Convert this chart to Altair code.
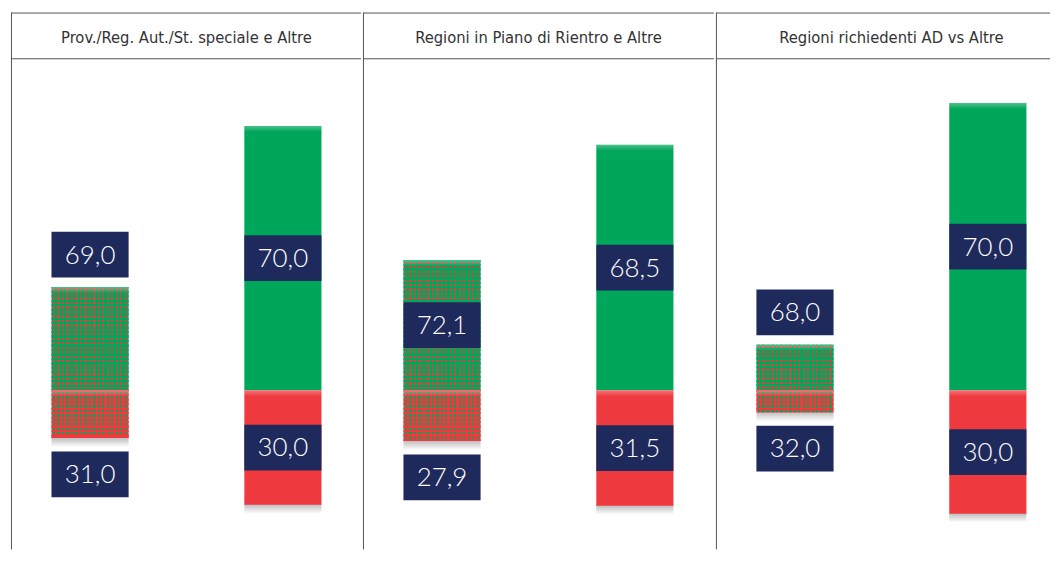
import altair as alt
import pandas as pd

# ---------------- data ----------------
panels = [
    "Prov./Reg. Aut./St. speciale e Altre",
    "Regioni in Piano di Rientro e Altre",
    "Regioni richiedenti AD vs Altre",
]
bars = ["small", "tall"]
segs = ["green", "red"]
# segment sizes (relative units, as drawn)
green_small = [104, 131, 46]
red_small = [48, 51, 22]
green_tall = [266, 247, 289]
red_tall = [115, 116, 124]
# percentage labels
lab_green_small = ["69,0", "72,1", "68,0"]
lab_red_small = ["31,0", "27,9", "32,0"]
lab_green_tall = ["70,0", "68,5", "70,0"]
lab_red_tall = ["30,0", "31,5", "30,0"]

rows = []
for i in range(3):
    rows.append(dict(pi=i, bar="small", seg="green", value=green_small[i], lab=lab_green_small[i]))
    rows.append(dict(pi=i, bar="small", seg="red", value=red_small[i], lab=lab_red_small[i]))
    rows.append(dict(pi=i, bar="tall", seg="green", value=green_tall[i], lab=lab_green_tall[i]))
    rows.append(dict(pi=i, bar="tall", seg="red", value=red_tall[i], lab=lab_red_tall[i]))
df = pd.DataFrame(rows)

# ---------------- styles ----------------
GREEN = "#00a65a"
RED = "#ee3a3e"
NAVY = "#1f2a5c"
LINE = "#555555"
H = 540
WIDTHS = [352, 353, 336]
TRANSP = "rgba(0,0,0,0)"
PITCH = 4.5
DOT = 2.3
BARW = 77.6

xscale = alt.Scale(domain=bars, range=[0, 353], paddingInner=0.6, paddingOuter=0.21)
yscale = alt.Scale(domain=[380 - H, 380], nice=False, zero=False)


def grad(stops, vertical):
    s = [alt.GradientStop(offset=round(o, 5), color=c) for o, c in stops]
    if vertical:
        return alt.LinearGradient(gradient="linear", x1=0, y1=0, x2=0, y2=1, stops=s)
    return alt.LinearGradient(gradient="linear", x1=0, y1=0, x2=1, y2=0, stops=s)


def col_stripes(color, length=BARW):
    st = [(0, TRANSP)]
    p = 1.5
    while p + DOT <= length:
        a, b = p / length, (p + DOT) / length
        st += [(a, TRANSP), (a, color), (b, color), (b, TRANSP)]
        p += PITCH
    st.append((1, TRANSP))
    return grad(st, False)


def row_cover(color, length):
    st = [(0, color)]
    p = 1.5
    while p + DOT <= length:
        a, b = p / length, (p + DOT) / length
        st += [(a, color), (a, TRANSP), (b, TRANSP), (b, color)]
        p += PITCH
    st.append((1, color))
    return grad(st, True)


shadow = grad([(0, "rgba(0,0,0,0.28)"), (1, "rgba(0,0,0,0)")], True)
shine = grad([(0, "rgba(255,255,255,0.3)"), (1, "rgba(255,255,255,0)")], True)

X = alt.X("bar:N", scale=xscale, axis=None)


def panel(i):
    base = (
        alt.Chart(df)
        .transform_filter(alt.datum.pi == i)
        .transform_calculate(signed="datum.seg == 'green' ? datum.value : -datum.value")
    )
    Ys = alt.Y("signed:Q", scale=yscale, axis=None)

    sh = (
        base.transform_filter(alt.datum.seg == "red")
        .transform_calculate(s1="-datum.value + 1", s2="-datum.value - 9")
        .mark_bar(fill=shadow)
        .encode(x=X, y=alt.Y("s1:Q", scale=yscale, axis=None), y2="s2:Q")
    )
    solid = base.mark_bar().encode(
        x=X, y=Ys,
        color=alt.Color("seg:N", scale=alt.Scale(domain=segs, range=[GREEN, RED]), legend=None),
    )
    dots_g = base.transform_filter((alt.datum.bar == "small") & (alt.datum.seg == "green")) \
        .mark_bar(fill=col_stripes(RED)).encode(x=X, y=Ys)
    dots_r = base.transform_filter((alt.datum.bar == "small") & (alt.datum.seg == "red")) \
        .mark_bar(fill=col_stripes(GREEN)).encode(x=X, y=Ys)
    cover_g = base.transform_filter((alt.datum.bar == "small") & (alt.datum.seg == "green")) \
        .mark_bar(fill=row_cover(GREEN, green_small[i])).encode(x=X, y=Ys)
    cover_r = base.transform_filter((alt.datum.bar == "small") & (alt.datum.seg == "red")) \
        .mark_bar(fill=row_cover(RED, red_small[i])).encode(x=X, y=Ys)
    top_shine = (
        base.transform_calculate(
            t1="datum.seg == 'green' ? datum.value : 0",
            t2="datum.seg == 'green' ? datum.value - 6 : -6",
        )
        .mark_bar(fill=shine)
        .encode(x=X, y=alt.Y("t1:Q", scale=yscale, axis=None), y2="t2:Q")
    )

    lbl = base.transform_calculate(
        center="datum.value >= 110 ? datum.signed / 2 : (datum.seg == 'green' ? datum.value + 32.5 : -datum.value - 36.5)"
    ).transform_calculate(b1="datum.center - 23", b2="datum.center + 23")
    boxes = lbl.mark_bar(color=NAVY).encode(
        x=X, y=alt.Y("b1:Q", scale=yscale, axis=None), y2="b2:Q"
    )
    texts = lbl.mark_text(
        font="Lato", fontSize=26, fontWeight=300, color="white", baseline="middle", dy=1
    ).encode(x=X, y=alt.Y("center:Q", scale=yscale, axis=None), text="lab:N")

    one = alt.Chart(pd.DataFrame({"title": [panels[i]]}))
    w = WIDTHS[i]
    top_rule = one.mark_rule(color=LINE, strokeWidth=1).encode(
        x=alt.value(0), x2=alt.value(w), y=alt.value(0.5))
    head_rule = one.mark_rule(color=LINE, strokeWidth=1).encode(
        x=alt.value(0), x2=alt.value(w), y=alt.value(46.5))
    left_rule = one.mark_rule(color=LINE, strokeWidth=1).encode(
        x=alt.value(0.5), y=alt.value(0), y2=alt.value(H))
    head = one.mark_text(
        font="Liberation Sans Narrow, Arial Narrow, DejaVu Sans Condensed, Roboto, sans-serif",
        fontSize=16.5, color="#333333", baseline="middle"
    ).encode(x=alt.value(176.5), y=alt.value(26), text="title:N")

    return alt.layer(
        sh, solid, dots_g, dots_r, cover_g, cover_r, top_shine, boxes, texts,
        top_rule, head_rule, left_rule, head,
    ).properties(width=w, height=H)


chart = (
    alt.hconcat(*[panel(i) for i in range(3)], spacing=0)
    .properties(padding={"left": 2, "top": 2, "right": 0, "bottom": 0})
    .configure_view(stroke=None)
    .configure_concat(spacing=0)
)

chart.save("out.html", embed_options={"renderer": "svg", "actions": False})
